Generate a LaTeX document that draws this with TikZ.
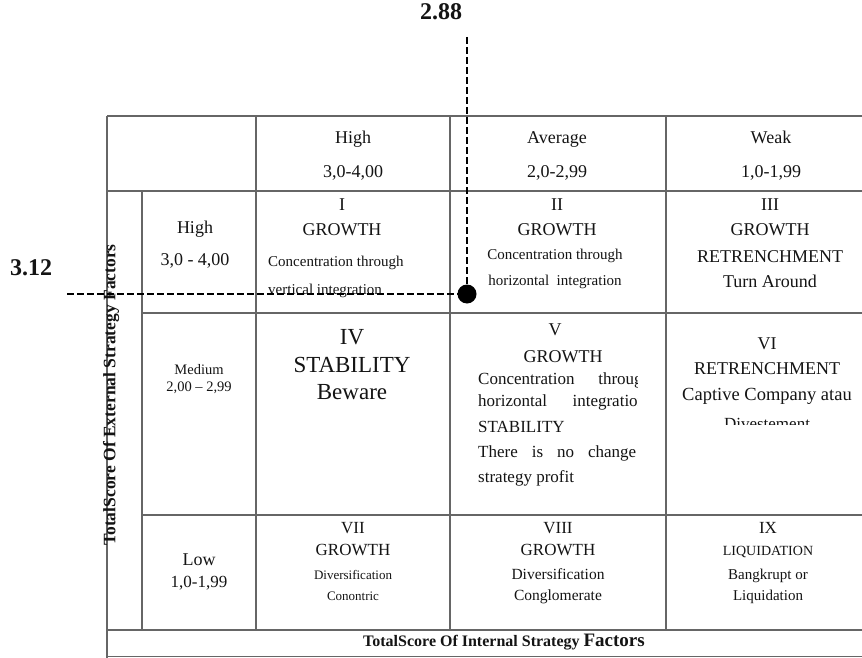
\documentclass[tikz,border=0pt]{standalone}
\usepackage{fontspec}
\setmainfont{Liberation Serif}
\newcommand{\fs}[1]{\fontsize{#1}{#1}\selectfont}
\begin{document}
\begin{tikzpicture}[x=1pt,y=-1pt,
  gridline/.style={line width=1.8pt, draw=black!60},
  t/.style={inner sep=0pt, anchor=mid, text=black!92},
  tl/.style={inner sep=0pt, anchor=mid west, text=black!92},
  guide/.style={line width=2.4pt, dash pattern=on 7pt off 3pt, draw=black},
]
\useasboundingbox (0,0) rectangle (862,658);
\fill[white] (0,0) rectangle (862,658);

% grid
\draw[gridline] (107,116) -- (862,116);
\draw[gridline] (107,116) -- (107,658);
\draw[gridline] (107,191) -- (862,191);
\draw[gridline] (142,313) -- (862,313);
\draw[gridline] (142,515) -- (862,515);
\draw[gridline] (107,630) -- (862,630);
\draw[gridline] (107,656.5) -- (862,656.5);
\draw[gridline] (142,191) -- (142,630);
\draw[gridline] (256,116) -- (256,630);
\draw[gridline] (450,116) -- (450,630);
\draw[gridline] (666,116) -- (666,630);

% header
\node[t,font=\fs{18}] (hHigh) at (353,141) {High};
\node[t,font=\fs{18}] (hHighR) at (353,175) {3,0-4,00};
\node[t,font=\fs{18}] (hAvg) at (557,141) {Average};
\node[t,font=\fs{18}] (hAvgR) at (557,175) {2,0-2,99};
\node[t,font=\fs{18}] (hWeak) at (771,141) {Weak};
\node[t,font=\fs{18}] (hWeakR) at (771,175) {1,0-1,99};

% row labels
\node[t,font=\fs{18}] (rHigh) at (195,231) {High};
\node[t,font=\fs{18}] (rHighR) at (195,263) {3,0 - 4,00};
\node[t,font=\fs{14.5}] (rMed) at (199,372) {Medium};
\node[t,font=\fs{14.5}] (rMedR) at (199,389) {2,00 \textendash\ 2,99};
\node[t,font=\fs{18}] (rLow) at (199,563) {Low};
\node[t,font=\fs{17}] (rLowR) at (199,585) {1,0-1,99};

% cell I
\node[t,font=\fs{18}] (c1n) at (342,208) {I};
\node[t,font=\fs{18}] (c1g) at (342,233) {GROWTH};
\node[tl,font=\fs{15}] (c1a) at (268,264) {Concentration through};
\node[tl,font=\fs{15}] (c1b) at (268,292) {vertical integration};

% cell II
\node[t,font=\fs{18}] (c2n) at (557,208) {II};
\node[t,font=\fs{18}] (c2g) at (557,233) {GROWTH};
\node[t,font=\fs{15}] (c2a) at (555,257) {Concentration through};
\node[t,font=\fs{15}] (c2b) at (555,283) {horizontal\ \ integration};

% cell III
\node[t,font=\fs{18}] (c3n) at (770,208) {III};
\node[t,font=\fs{18}] (c3g) at (770,233) {GROWTH};
\node[t,font=\fs{18}] (c3r) at (770,260) {RETRENCHMENT};
\node[t,font=\fs{18}] (c3t) at (770,285) {Turn Around};

% cell IV
\node[t,font=\fs{23}] (c4n) at (352,342) {IV};
\node[t,font=\fs{23}] (c4s) at (352,370) {STABILITY};
\node[t,font=\fs{23}] (c4b) at (352,397) {Beware};

% cell V
\node[t,font=\fs{18}] (c5n) at (555,333) {V};
\node[t,font=\fs{18}] (c5g) at (563,360) {GROWTH};
\begin{scope}
\clip (470,318) rectangle (637,505);
\node[tl,font=\fs{17}] (c5a) at (478,382) {\makebox[173pt][s]{Concentration through}};
\node[tl,font=\fs{17}] (c5b) at (478,404) {\makebox[168pt][s]{horizontal integration}};
\node[tl,font=\fs{17}] (c5c) at (478,430) {STABILITY};
\node[tl,font=\fs{17}] (c5d) at (478,455) {\makebox[158pt][s]{There is no change}};
\node[tl,font=\fs{17}] (c5e) at (478,480) {strategy profit};
\end{scope}

% cell VI
\node[t,font=\fs{18}] (c6n) at (767,347) {VI};
\node[t,font=\fs{18}] (c6r) at (767,372) {RETRENCHMENT};
\node[t,font=\fs{18.5}] (c6c) at (767,398) {Captive Company atau};
\begin{scope}
\clip (670,318) rectangle (862,424.5);
\node[t,font=\fs{17}] (c6d) at (767,427) {Divestement};
\end{scope}

% cell VII
\node[t,font=\fs{17}] (c7n) at (353,531) {VII};
\node[t,font=\fs{17}] (c7g) at (353,553) {GROWTH};
\node[t,font=\fs{13}] (c7a) at (353,577) {Diversification};
\node[t,font=\fs{13}] (c7b) at (353,598) {Conontric};

% cell VIII
\node[t,font=\fs{17}] (c8n) at (558,531) {VIII};
\node[t,font=\fs{17}] (c8g) at (558,553) {GROWTH};
\node[t,font=\fs{15.5}] (c8a) at (558,577) {Diversification};
\node[t,font=\fs{15.5}] (c8b) at (558,598) {Conglomerate};

% cell IX
\node[t,font=\fs{17}] (c9n) at (768,531) {IX};
\node[t,font=\fs{14}] (c9l) at (768,553) {LIQUIDATION};
\node[t,font=\fs{15}] (c9a) at (768,577) {Bangkrupt or};
\node[t,font=\fs{15}] (c9b) at (768,598) {Liquidation};

% axis labels
\node[t,font=\bfseries] (xlab) at (504,644) {\fs{16}TotalScore Of Internal Strategy \fs{19}Factors};
\node[t,font=\bfseries\fs{17.5},rotate=90] (ylab) at (113,395) {TotalScore Of External Strategy Factors};

% values and guides
\node[t,font=\bfseries\fs{24}] (v288) at (441,17) {2.88};
\node[t,font=\bfseries\fs{24}] (v312) at (31,273) {3.12};
\node[circle, fill=black, minimum size=19pt, inner sep=0pt] (dot) at (467,294) {};
\coordinate (vtop) at (467,37);
\coordinate (hleft) at (67,294);
\draw[guide] (vtop) -- (dot);
\draw[guide] (hleft) -- (dot);
\end{tikzpicture}
\end{document}
